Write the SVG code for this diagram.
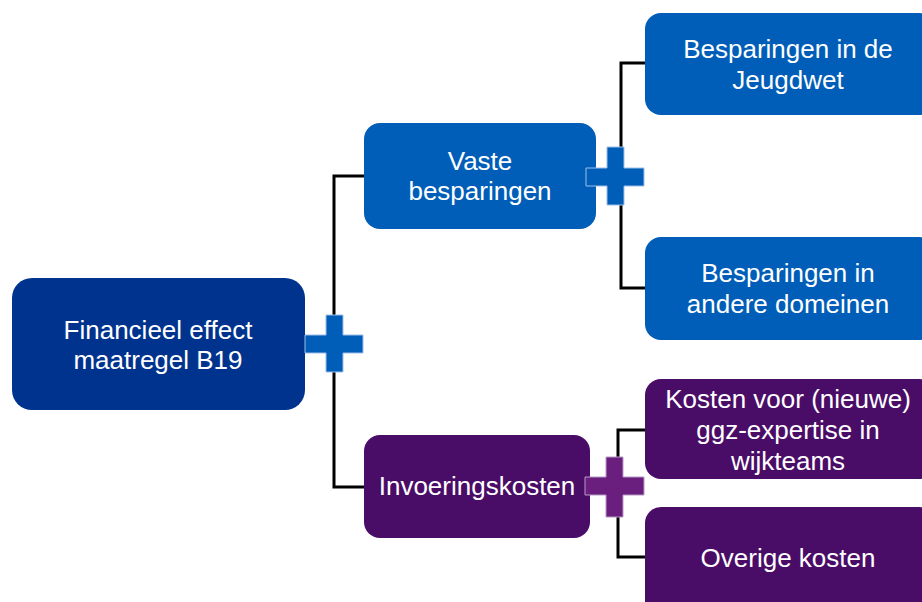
<svg xmlns="http://www.w3.org/2000/svg" width="922" height="602" viewBox="0 0 922 602">
<style>
.t{font-family:"Liberation Sans",Arial,sans-serif;font-size:26px;fill:#fff;text-anchor:middle}
.c{stroke:#000;stroke-width:3;fill:none}
.pb{fill:#005EB8;stroke:#9DBFE8;stroke-width:1}
.pp{fill:#6A1E7E;stroke:#B79AC4;stroke-width:1}
</style>
<rect width="922" height="602" fill="#fff"/>
<g id="connectors">
<path class="c" d="M364,176 H334 V487 H364"/>
<path class="c" d="M646,63 H621 V288 H646"/>
<path class="c" d="M646,430 H618 V557 H646"/>
</g>
<g id="root">
<rect x="12" y="278" width="293" height="132" rx="20" fill="#00338D"/>
<text class="t" x="158" y="339">Financieel effect</text>
<text class="t" x="158" y="369">maatregel B19</text>
</g>
<g id="vaste">
<rect x="364" y="123" width="232" height="106" rx="16" fill="#005EB8"/>
<text class="t" x="480" y="170">Vaste</text>
<text class="t" x="480" y="200">besparingen</text>
</g>
<g id="invoering">
<rect x="364" y="435" width="226" height="103" rx="16" fill="#4A0D67"/>
<text class="t" x="477" y="495">Invoeringskosten</text>
</g>
<g id="jeugdwet">
<rect x="645" y="13" width="290" height="102" rx="16" fill="#005EB8"/>
<text class="t" x="788" y="58">Besparingen in de</text>
<text class="t" x="788" y="89">Jeugdwet</text>
</g>
<g id="domeinen">
<rect x="645" y="237" width="290" height="103" rx="16" fill="#005EB8"/>
<text class="t" x="788" y="282">Besparingen in</text>
<text class="t" x="788" y="313">andere domeinen</text>
</g>
<g id="kosten">
<rect x="645" y="379" width="290" height="100" rx="16" fill="#4A0D67"/>
<text class="t" x="788" y="408">Kosten voor (nieuwe)</text>
<text class="t" x="788" y="439">ggz-expertise in</text>
<text class="t" x="788" y="470">wijkteams</text>
</g>
<g id="overige">
<rect x="645" y="507" width="290" height="110" rx="16" fill="#4A0D67"/>
<text class="t" x="788" y="567">Overige kosten</text>
</g>
<g id="plus-root">
<path class="pb" d="M326,315 H343 V335 H363 V353 H343 V372 H326 V353 H305 V335 H326 Z"/>
</g>
<g id="plus-vaste">
<path class="pb" d="M607,147 H624 V168 H644 V186 H624 V205 H607 V186 H586 V168 H607 Z"/>
</g>
<g id="plus-invoering">
<path class="pp" d="M606,457 H623 V477 H644 V495 H623 V517 H606 V495 H585 V477 H606 Z"/>
</g>
</svg>
